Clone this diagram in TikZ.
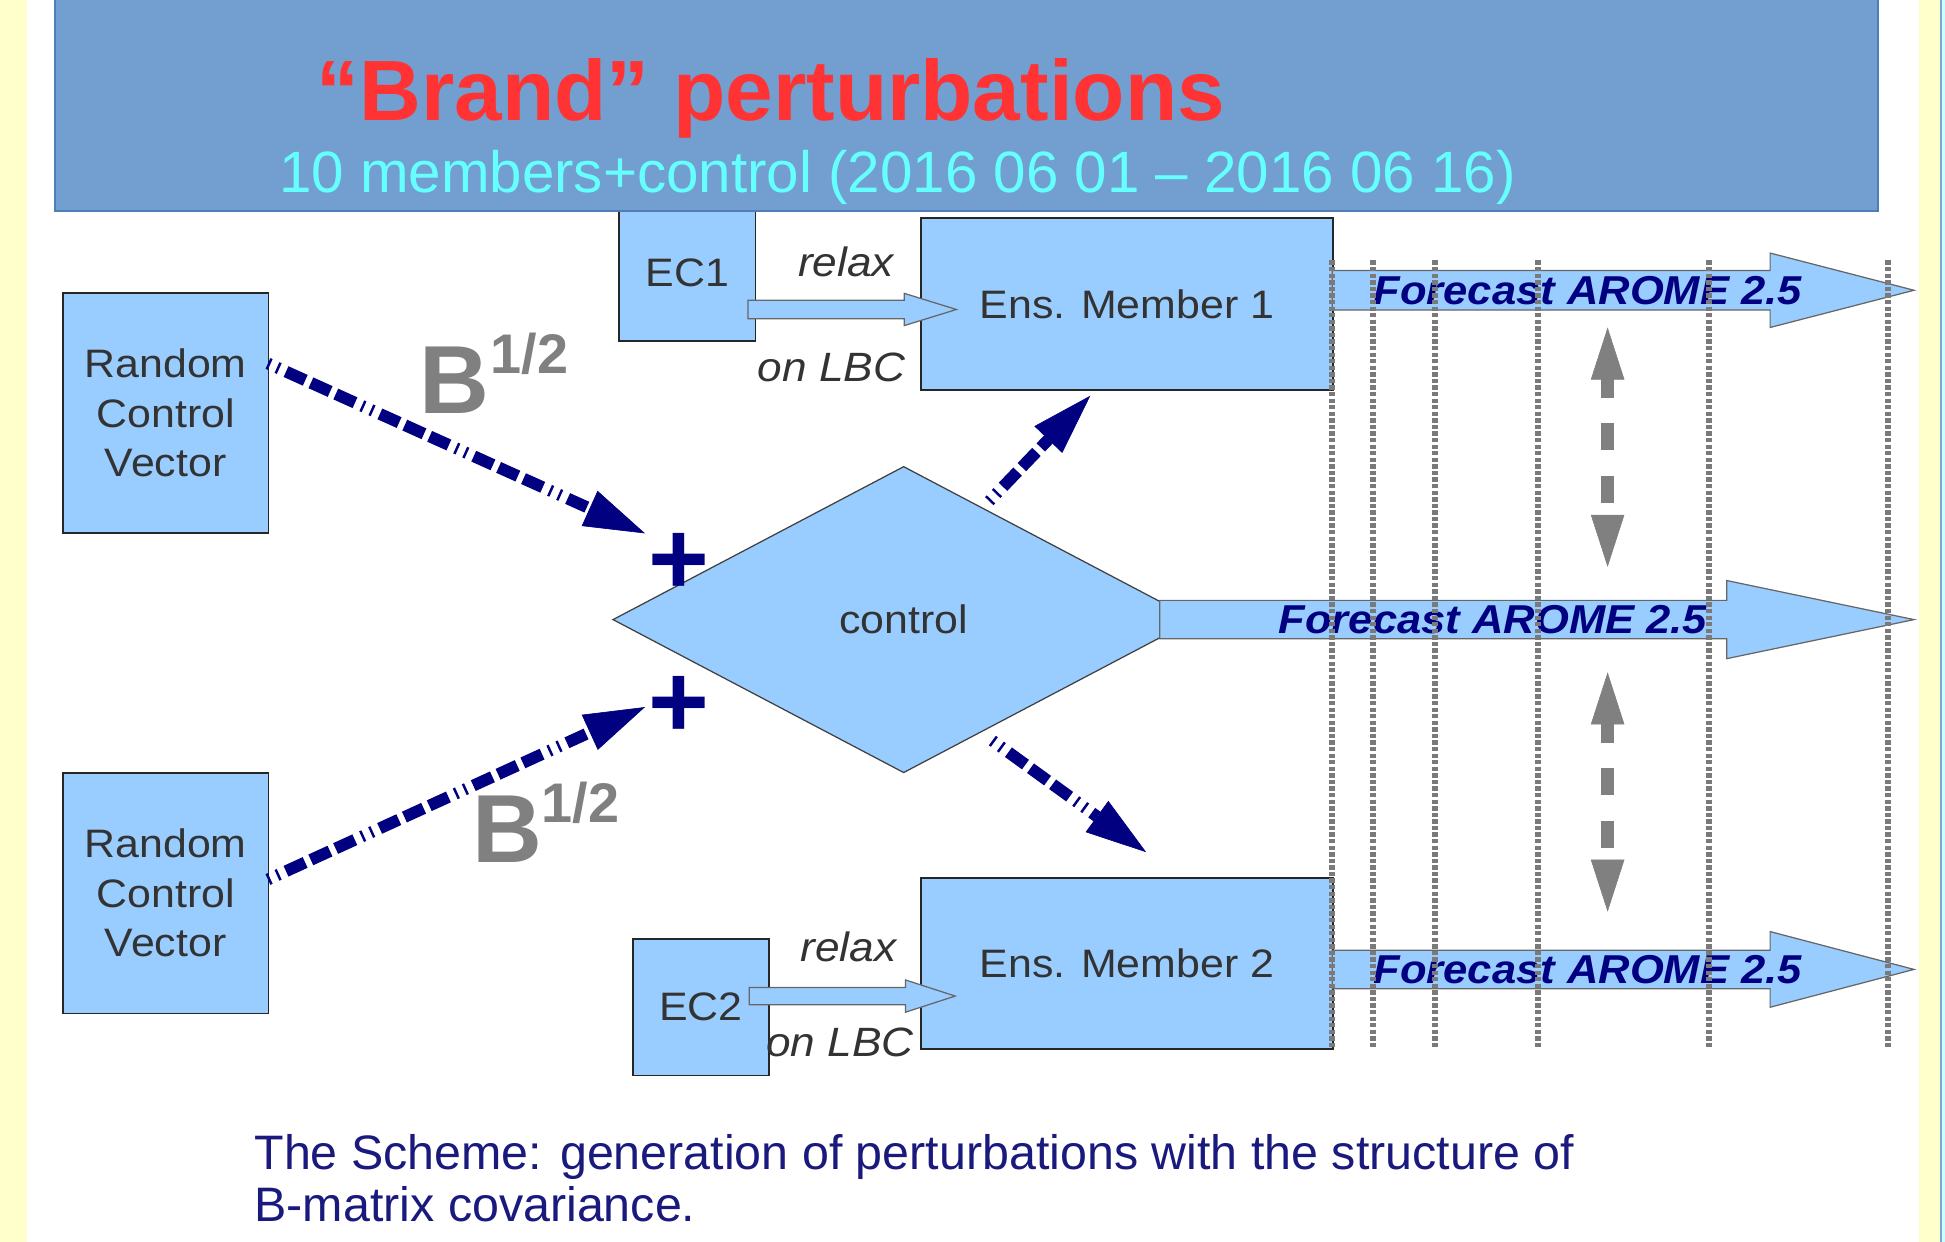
\documentclass[tikz,border=0pt]{standalone}
\usepackage{fontspec}
\setmainfont{Liberation Sans}
\newfontfamily\dfont[FakeStretch=1.08]{Liberation Sans}
\usetikzlibrary{arrows.meta,shapes.geometric}
\definecolor{lblue}{HTML}{99CCFF}
\definecolor{bannerc}{HTML}{729FCF}
\definecolor{bannerline}{HTML}{4F7DB8}
\definecolor{yel}{HTML}{FFFFCC}
\definecolor{navy}{HTML}{000080}
\definecolor{capnavy}{HTML}{1A1A7E}
\definecolor{titlered}{HTML}{FF3333}
\definecolor{subcyan}{HTML}{66FFFF}
\definecolor{txtgray}{HTML}{333333}
\definecolor{bgray}{HTML}{808080}
\definecolor{dotgray}{HTML}{7A7A7A}
\definecolor{edgeblue}{HTML}{7BA7D9}
\definecolor{edgecyan}{HTML}{CCFFFF}
\begin{document}
\begin{tikzpicture}[x=1pt,y=-1pt,
  box/.style={draw=black!85, line width=1.5pt, fill=lblue, inner sep=0pt, text=txtgray, align=center, font=\dfont\fontsize{32}{40}\selectfont},
  blockarrow/.style={fill=lblue, draw=black!60, line width=1pt, line join=miter},
  lab/.style={inner sep=0pt, text=txtgray, font=\dfont\itshape\fontsize{33}{33}\selectfont},
  fclab/.style={inner sep=0pt, text=navy, font=\dfont\bfseries\itshape\fontsize{32.5}{32.5}\selectfont},
  dotline/.style={draw=dotgray, line width=5pt, dash pattern=on 3.5pt off 1.8pt},
  navyarrow/.style={draw=navy, line width=9.5pt, dash pattern=on 2pt off 6pt on 2pt off 6pt on 17pt off 5pt on 17pt off 5pt on 17pt off 6pt, -{Triangle[length=49pt,width=31pt,line width=0.5pt]}},
  grayarrow/.style={draw=bgray, line width=10.6pt, dash pattern=on 15pt off 20pt on 22pt off 21pt on 22pt off 10pt, {Triangle[length=42pt,width=27pt,line width=0.5pt]}-{Triangle[length=42pt,width=27pt,line width=0.5pt]}},
  plussign/.style={inner sep=0pt, text=navy, font=\bfseries\fontsize{84}{84}\selectfont},
  bbig/.style={inner sep=0pt, anchor=base, text=bgray, font=\bfseries\fontsize{78}{78}\selectfont},
  bexp/.style={inner sep=0pt, anchor=base, text=bgray, font=\bfseries\fontsize{45}{45}\selectfont},
  caption/.style={inner sep=0pt, anchor=base west, text=capnavy, font=\fontsize{39}{43}\selectfont}
]
\useasboundingbox (0,0) rectangle (1568,1001);
% background and side strips
\fill[white] (0,0) rectangle (1568,1001);
\fill[yel] (0,0) rectangle (21.5,1001);
\fill[yel] (1547,0) rectangle (1564,1001);
\fill[edgeblue] (1564,0) rectangle (1565.5,1001);
\fill[edgecyan] (1565.5,0) rectangle (1568,1001);

% EC1 box (top hidden under the banner)
\node[box, minimum width=110pt, minimum height=110pt] (ec1) at (554,220) {EC1};

% banner
\fill[bannerc] (44,0) rectangle (1514,170);
\draw[bannerline, line width=1.5pt] (44,0) -- (44,170) -- (1514,170) -- (1514,0);
\node[inner sep=0pt, anchor=base, text=titlered, font=\bfseries\fontsize{69}{80}\selectfont] (title) at (621.5,97.3) {“Brand” perturbations};
\node[inner sep=0pt, anchor=base, text=subcyan, font=\fontsize{47}{56}\selectfont] (subtitle) at (723.5,155.3) {10 members+control (2016 06 01 – 2016 06 16)};

% boxes
\node[box, minimum width=166pt, minimum height=194pt] (rcv1) at (133.5,333) {Random\\Control\\Vector};
\node[box, minimum width=166pt, minimum height=194pt] (rcv2) at (133.5,720) {Random\\Control\\Vector};
\node[box, minimum width=332pt, minimum height=139pt] (ens1) at (908.5,245) {Ens. Member 1};
\node[box, minimum width=332pt, minimum height=138pt] (ens2) at (908.5,776.5) {Ens. Member 2};
\node[box, minimum width=110pt, minimum height=110pt] (ec2) at (565,812) {EC2};
\node[diamond, draw=black!75, line width=1pt, fill=lblue, aspect=1.9, minimum width=469pt, minimum height=247pt, inner sep=0pt, text=txtgray, font=\dfont\fontsize{32}{32}\selectfont] (ctrl) at (728.5,499.5) {control};

% forecast block arrows
\draw[blockarrow] (1074,218) -- (1427,218) -- (1427,204) -- (1543,234) -- (1427,264) -- (1427,250) -- (1074,250) -- cycle;
\draw[blockarrow] (935,484) -- (1392,484) -- (1392,468) -- (1543,499.5) -- (1392,531) -- (1392,515) -- (935,515) -- cycle;
\draw[blockarrow] (1074,766) -- (1427,766) -- (1427,751) -- (1543,781.5) -- (1427,812) -- (1427,797) -- (1074,797) -- cycle;
\node[fclab] (fc1) at (1280,234) {Forecast AROME 2.5};
\node[fclab] (fc0) at (1203.5,499.5) {Forecast AROME 2.5};
\node[fclab] (fc2) at (1280,781.5) {Forecast AROME 2.5};

% relaxation arrows
\draw[blockarrow] (603,242) -- (729,242) -- (729,236.5) -- (771,249.5) -- (729,262.5) -- (729,257) -- (603,257) -- cycle;
\draw[blockarrow] (604,796) -- (730,796) -- (730,790) -- (770,803) -- (730,816) -- (730,810) -- (604,810) -- cycle;
\node[lab] (relax1) at (682,211) {relax};
\node[lab] (lbc1) at (670.5,296) {on LBC};
\node[lab] (relax2) at (684,763) {relax};
\node[lab] (lbc2) at (677,840) {on LBC};

% vertical dotted time lines
\foreach \xx in {1074,1107,1157,1240,1378,1522}
  \draw[dotline] (\xx,210) -- (\xx,844);

% B^{1/2} perturbation arrows
\coordinate (b1s) at (216,293);
\coordinate (b1e) at (520,430);
\coordinate (b2s) at (216,709);
\coordinate (b2e) at (520,570);
\coordinate (m1s) at (797.5,404);
\coordinate (m1e) at (879,319);
\coordinate (m2s) at (800,597);
\coordinate (m2e) at (924,687);
\draw[navyarrow] (b1s) -- (b1e);
\draw[navyarrow] (b2s) -- (b2e);
\draw[navyarrow] (m1s) -- (m1e);
\draw[navyarrow] (m2s) -- (m2e);
\node[plussign] (plus1) at (547,455) {+};
\node[plussign] (plus2) at (547,570) {+};
\node[bbig] (B1) at (366,333) {B};
\node[bexp] (B1e) at (427,301) {1/2};
\node[bbig] (B2) at (409,695) {B};
\node[bexp] (B2e) at (468,663) {1/2};

% gray double arrows
\coordinate (g1a) at (1296,264);
\coordinate (g1b) at (1296,457);
\coordinate (g2a) at (1296,542);
\coordinate (g2b) at (1296,735);
\draw[grayarrow] (g1a) -- (g1b);
\draw[grayarrow] (g2a) -- (g2b);

% caption
\node[caption] (cap1) at (205,943) {The Scheme: generation of perturbations with the structure of};
\node[caption] (cap2) at (205,985) {B-matrix covariance.};
\end{tikzpicture}
\end{document}
